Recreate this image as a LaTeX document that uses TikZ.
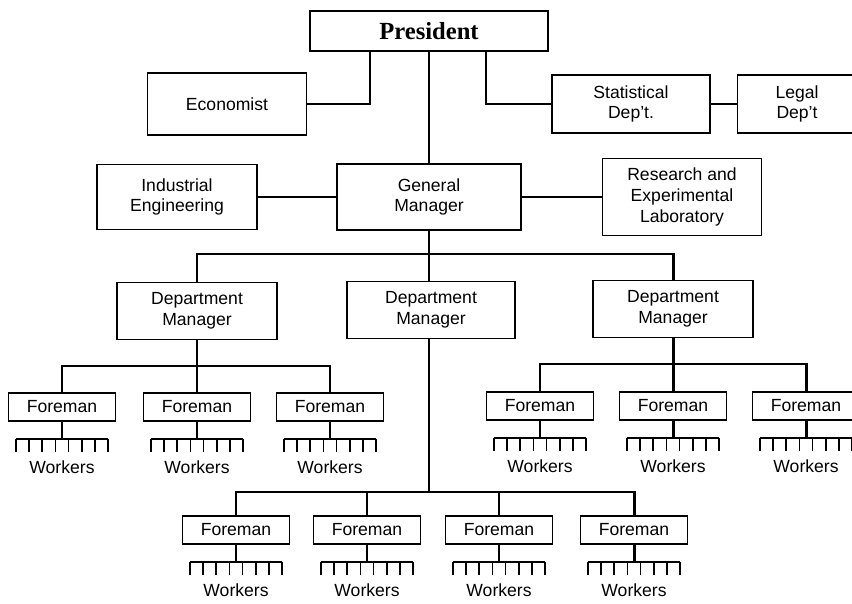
\documentclass[tikz,border=0pt]{standalone}
\usepackage{fontspec}
\setmainfont{Liberation Serif}
\setsansfont{Liberation Sans}

\tikzset{
  box/.style={draw, line width=0.8pt, align=center, inner sep=0pt,
    font=\sffamily\fontsize{10}{11.7}\selectfont},
  foreman/.style={box, minimum width=2.14cm, minimum height=0.56cm},
  dept/.style={box, minimum width=3.2cm, minimum height=1.15cm},
  link/.style={line width=1.7pt},
  tick/.style={line width=1pt},
  workers/.style={font=\sffamily\fontsize{10}{11.7}\selectfont, inner sep=0pt},
}

\begin{document}
\begin{tikzpicture}[x=0.02cm, y=-0.02cm]
  \useasboundingbox (0,0) rectangle (852,604);

  % top of the chart
  \node[box, minimum width=4.76cm, minimum height=0.8cm,
        font=\bfseries\fontsize{14}{16}\selectfont] (pres) at (429,31) {President};
  \node[box, minimum width=3.18cm, minimum height=1.24cm] (econ) at (227,104) {Economist};
  \node[box, minimum width=3.16cm, minimum height=1.16cm] (stat) at (631,104) {Statistical\\Dep't.};
  \node[box, minimum width=2.38cm, minimum height=1.16cm] (legal) at (797,104) {Legal\\Dep't};

  \node[box, minimum width=3.2cm, minimum height=1.3cm] (indeng) at (177,197) {Industrial\\Engineering};
  \node[box, minimum width=3.68cm, minimum height=1.32cm] (gm) at (429,197) {General\\Manager};
  \node[box, minimum width=3.18cm, minimum height=1.54cm] (lab) at (682,197) {Research and\\Experimental\\Laboratory};

  \coordinate (econtap) at (370,51);
  \coordinate (stattap) at (486,51);
  \draw[link] (econ.east) -| (econtap);
  \draw[link] (stat.west) -| (stattap);
  \draw[link] (stat.east) -- (legal.west);
  \draw[link] (pres.south) -- (gm.north);
  \draw[link] (indeng.east) -- (gm.west);
  \draw[link] (gm.east) -- (lab.west);

  % department managers
  \node[dept] (dmleft) at (197,311) {Department\\Manager};
  \node[dept, minimum width=3.36cm] (dmmid) at (431,310) {Department\\Manager};
  \node[dept] (dmright) at (673,309) {Department\\Manager};

  \coordinate (split) at (429,254);
  \draw[link] (gm.south) -- (gm.south |- dmmid.north);
  \draw[link] (dmleft.north) |- (split) -| (dmright.north);

  % foremen
  \node[foreman] (fl1) at (62,407) {Foreman};
  \node[foreman] (fl2) at (197,407) {Foreman};
  \node[foreman] (fl3) at (330,407) {Foreman};

  \node[foreman] (fr1) at (540,406) {Foreman};
  \node[foreman] (fr2) at (673,406) {Foreman};
  \node[foreman] (fr3) at (806,406) {Foreman};

  \node[foreman] (fm1) at (236,530) {Foreman};
  \node[foreman] (fm2) at (367,530) {Foreman};
  \node[foreman] (fm3) at (499,530) {Foreman};
  \node[foreman] (fm4) at (634,530) {Foreman};

  \coordinate (barL) at (197,366);
  \coordinate (barR) at (673,364);
  \coordinate (barM) at (429,492);
  \draw[link] (dmleft.south) -- (fl2.north);
  \draw[link] (fl1.north) |- (barL) -| (fl3.north);
  \draw[link] (dmright.south) -- (fr2.north);
  \draw[link] (fr1.north) |- (barR) -| (fr3.north);
  \draw[link] (gm.south |- dmmid.south) -- (barM);
  \draw[link] (fm1.north) |- (barM) -| (fm4.north);
  \draw[link] (fm2.north) -- (fm2.north |- barM);
  \draw[link] (fm3.north) -- (fm3.north |- barM);

  % workers under each foreman
  \foreach \f in {fl1,fl2,fl3,fr1,fr2,fr3,fm1,fm2,fm3,fm4} {
    \coordinate (\f-comb) at ([yshift=-0.34cm]\f.south);
    \draw[link] (\f.south) -- (\f-comb);
    \draw[tick] ([xshift=-0.92cm]\f-comb) -- ([xshift=0.92cm]\f-comb);
    \foreach \i in {0,...,7}
      \draw[tick] ([xshift={-0.92cm+\i*0.26286cm}]\f-comb) -- ++(0,13);
    \node[workers] (\f-w) at ([yshift=-0.58cm]\f-comb) {Workers};
  }
\end{tikzpicture}
\end{document}
